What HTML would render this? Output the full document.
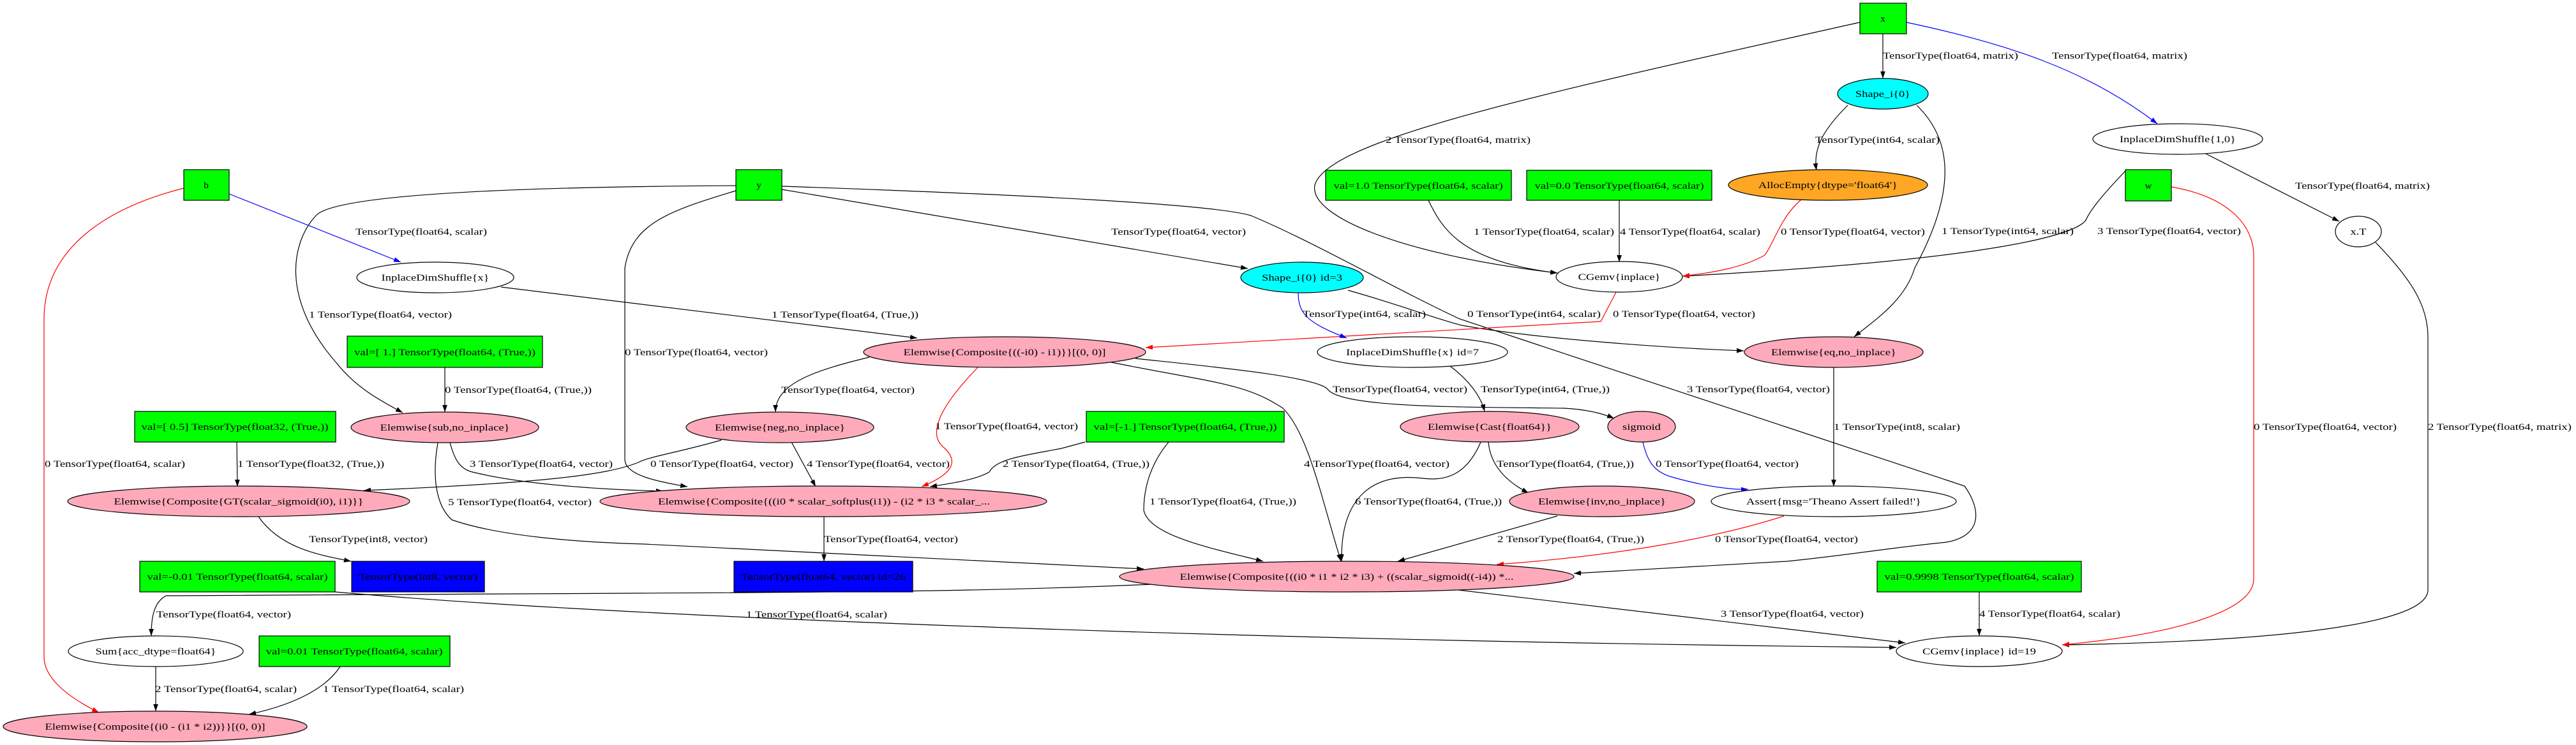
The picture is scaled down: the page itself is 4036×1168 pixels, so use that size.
<!DOCTYPE html>
<html><head><meta charset="utf-8"><style>
html,body{margin:0;padding:0;background:#fff;}
svg{display:block;}
text{font-family:"Liberation Serif",serif;font-size:15px;fill:#000;}
</style></head><body>
<svg width="4036" height="1168" viewBox="0 0 4036 1168" xmlns="http://www.w3.org/2000/svg">
<defs>
<marker id="ak" viewBox="0 0 10 7" refX="10" refY="3.5" markerWidth="11" markerHeight="8" markerUnits="userSpaceOnUse" orient="auto"><path d="M0,0 L10,3.5 L0,7 z" fill="#000"/></marker>
<marker id="ar" viewBox="0 0 10 7" refX="10" refY="3.5" markerWidth="11" markerHeight="8" markerUnits="userSpaceOnUse" orient="auto"><path d="M0,0 L10,3.5 L0,7 z" fill="#f00"/></marker>
<marker id="ab" viewBox="0 0 10 7" refX="10" refY="3.5" markerWidth="11" markerHeight="8" markerUnits="userSpaceOnUse" orient="auto"><path d="M0,0 L10,3.5 L0,7 z" fill="#00f"/></marker>
</defs>
<rect width="4036" height="1168" fill="#fff"/>

<g fill="none" stroke="#000" stroke-width="1.2" marker-end="url(#ak)">
<path d="M2950,53 L2950,123"/>
<path d="M2914,35 C2400,150 2080,220 2060,290 C2050,340 2200,400 2440,428"/>
<path d="M2895,165 C2860,200 2840,230 2846,267"/>
<path d="M3003,165 C3060,220 3065,300 3000,420 C2985,470 2940,500 2905,528"/>
<path d="M2238,314 C2260,360 2290,410 2440,428"/>
<path d="M2537,314 L2537,411"/>
<path d="M3330,268 C3290,310 3275,330 3268,345 C3255,365 3150,405 2636,433"/>
<path d="M3456,241 L3665,347"/>
<path d="M3722,380 C3780,440 3804,480 3804,530 L3804,925 C3804,975 3600,1005 3231,1011"/>
<path d="M2112,455 C2200,480 2250,500 2290,510 C2400,530 2600,545 2732,550"/>
<path d="M1153,291 C800,293 530,305 496,337 C455,380 440,470 528,570 C560,610 600,630 631,647"/>
<path d="M1153,299 C1050,330 990,350 979,420 L979,720 C979,745 1030,755 1077,763"/>
<path d="M1130,690 C1060,710 1020,715 1000,725 C950,745 850,757 570,769"/>
<path d="M705,694 C712,720 720,735 740,740 C820,760 950,768 1039,770"/>
<path d="M686,694 C678,740 680,790 708,815 C780,840 900,850 1010,853 L1792,892"/>
<path d="M1240,693 L1278,763"/>
<path d="M1362,560 C1280,580 1215,600 1215,646"/>
<path d="M1700,693 L1663,703 C1600,715 1560,720 1550,740 C1530,752 1490,758 1457,763"/>
<path d="M1831,693 C1800,730 1792,770 1792,800 C1800,840 1900,860 1979,880"/>
<path d="M1741,568 C1900,600 1950,600 2010,640 C2050,680 2070,780 2101,880"/>
<path d="M1779,562 C1900,575 2060,590 2080,610 C2100,640 2300,638 2450,640 C2490,642 2515,650 2529,656"/>
<path d="M2272,574 C2300,595 2320,620 2326,645"/>
<path d="M2320,693 C2300,740 2270,755 2230,750 C2150,740 2100,780 2102,880"/>
<path d="M2332,693 C2335,730 2360,755 2395,773"/>
<path d="M2873,576 L2873,763"/>
<path d="M2440,809 L2190,880"/>
<path d="M1225,292 C1600,305 1900,320 1960,338 C2060,380 2180,450 2287,500 L3078,762 C3105,800 3105,840 3050,850 C2950,860 2900,870 2800,880 L2466,899"/>
<path d="M1225,297 L1955,421"/>
<path d="M785,450 L1437,530"/>
<path d="M697,576 L697,646"/>
<path d="M371,693 L372,763"/>
<path d="M405,810 C440,860 500,870 550,880"/>
<path d="M1291,810 L1291,880"/>
<path d="M1805,916 C1600,925 1430,928 1000,930 L260,934 C240,945 237,970 237,997"/>
<path d="M525,928 C1000,970 2000,1005 2971,1015"/>
<path d="M2285,925 L2985,1008"/>
<path d="M3101,928 L3101,997"/>
<path d="M244,1045 L244,1115"/>
<path d="M533,1045 C510,1080 460,1105 390,1120"/>
</g>
<g fill="none" stroke="#f00" stroke-width="1.2" marker-end="url(#ar)">
<path d="M2822,313 C2790,340 2780,380 2765,400 C2730,420 2680,428 2636,433"/>
<path d="M3402,293 C3500,310 3531,360 3531,400 L3531,908 C3531,960 3400,995 3231,1011"/>
<path d="M2532,458 L2508,504 L1795,545"/>
<path d="M288,295 C150,330 69,400 69,500 L69,1030 C69,1060 100,1090 155,1117"/>
<path d="M1532,576 C1470,640 1455,680 1477,700 C1500,720 1500,740 1444,763"/>
<path d="M2795,809 C2700,840 2550,870 2345,885"/>
</g>
<g fill="none" stroke="#00f" stroke-width="1.2" marker-end="url(#ab)">
<path d="M2987,35 C3150,70 3270,110 3380,194"/>
<path d="M2034,458 C2034,490 2045,505 2110,530"/>
<path d="M359,304 L628,411"/>
<path d="M2574,693 C2580,720 2590,740 2620,748 C2680,765 2720,768 2739,767"/>
</g>

<g stroke="#000" stroke-width="1.2">
<rect x="2914" y="5" width="73" height="48" fill="#00ff00"/>
<rect x="288" y="266" width="71" height="48" fill="#00ff00"/>
<rect x="1153" y="266" width="72" height="48" fill="#00ff00"/>
<rect x="3330" y="266" width="72" height="49" fill="#00ff00"/>
<rect x="2077" y="267" width="291" height="47" fill="#00ff00"/>
<rect x="2392" y="267" width="290" height="47" fill="#00ff00"/>
<rect x="544" y="527" width="306" height="49" fill="#00ff00"/>
<rect x="211" y="645" width="315" height="48" fill="#00ff00"/>
<rect x="1702" y="645" width="310" height="48" fill="#00ff00"/>
<rect x="219" y="880" width="306" height="48" fill="#00ff00"/>
<rect x="551" y="880" width="208" height="48" fill="#0000ff"/>
<rect x="1150" y="880" width="280" height="48" fill="#0000ff"/>
<rect x="2941" y="880" width="320" height="48" fill="#00ff00"/>
<rect x="406" y="997" width="299" height="48" fill="#00ff00"/>
</g>
<g stroke="#000" stroke-width="1.2">
<ellipse cx="2950" cy="147" rx="71" ry="24" fill="#00ffff"/>
<ellipse cx="2864" cy="290" rx="156" ry="24" fill="#ffa724"/>
<ellipse cx="3412" cy="218" rx="133" ry="24" fill="#fff"/>
<ellipse cx="3695" cy="363" rx="36" ry="24" fill="#fff"/>
<ellipse cx="2537" cy="434" rx="99" ry="24" fill="#fff"/>
<ellipse cx="2040" cy="435" rx="96" ry="24" fill="#00ffff"/>
<ellipse cx="682" cy="435" rx="123" ry="24" fill="#fff"/>
<ellipse cx="1574" cy="552" rx="221" ry="24" fill="#ffaabb"/>
<ellipse cx="2213" cy="552" rx="149" ry="24" fill="#fff"/>
<ellipse cx="2873" cy="552" rx="140" ry="24" fill="#ffaabb"/>
<ellipse cx="697" cy="670" rx="147" ry="24" fill="#ffaabb"/>
<ellipse cx="1222" cy="670" rx="147" ry="24" fill="#ffaabb"/>
<ellipse cx="2334" cy="669" rx="140" ry="24" fill="#ffaabb"/>
<ellipse cx="2572" cy="669" rx="53" ry="24" fill="#ffaabb"/>
<ellipse cx="374" cy="786" rx="268" ry="24" fill="#ffaabb"/>
<ellipse cx="1290" cy="786" rx="350" ry="24" fill="#ffaabb"/>
<ellipse cx="2510" cy="786" rx="145" ry="24" fill="#ffaabb"/>
<ellipse cx="2873" cy="786" rx="192" ry="24" fill="#fff"/>
<ellipse cx="2110" cy="904" rx="356" ry="24" fill="#ffaabb"/>
<ellipse cx="3101" cy="1021" rx="130" ry="24" fill="#fff"/>
<ellipse cx="244" cy="1021" rx="137" ry="24" fill="#fff"/>
<ellipse cx="243" cy="1139" rx="238" ry="24" fill="#ffaabb"/>
</g>

<g text-anchor="middle">
<text x="2950" y="34">x</text>
<text x="323" y="295">b</text>
<text x="1189" y="295">y</text>
<text x="3366" y="296">w</text>
<text x="2222" y="296" textLength="265" lengthAdjust="spacingAndGlyphs">val=1.0 TensorType(float64, scalar)</text>
<text x="2537" y="296" textLength="265" lengthAdjust="spacingAndGlyphs">val=0.0 TensorType(float64, scalar)</text>
<text x="697" y="557" textLength="284" lengthAdjust="spacingAndGlyphs">val=[ 1.] TensorType(float64, (True,))</text>
<text x="368" y="674" textLength="293" lengthAdjust="spacingAndGlyphs">val=[ 0.5] TensorType(float32, (True,))</text>
<text x="1857" y="674" textLength="287" lengthAdjust="spacingAndGlyphs">val=[-1.] TensorType(float64, (True,))</text>
<text x="372" y="909" textLength="283" lengthAdjust="spacingAndGlyphs">val=-0.01 TensorType(float64, scalar)</text>
<text x="655" y="909" textLength="186" lengthAdjust="spacingAndGlyphs">TensorType(int8, vector)</text>
<text x="1290" y="909" textLength="258" lengthAdjust="spacingAndGlyphs">TensorType(float64, vector) id=26</text>
<text x="3101" y="909" textLength="297" lengthAdjust="spacingAndGlyphs">val=0.9998 TensorType(float64, scalar)</text>
<text x="555" y="1026" textLength="277" lengthAdjust="spacingAndGlyphs">val=0.01 TensorType(float64, scalar)</text>

<text x="2950" y="152" textLength="86" lengthAdjust="spacingAndGlyphs">Shape_i{0}</text>
<text x="2864" y="295" textLength="218" lengthAdjust="spacingAndGlyphs">AllocEmpty{dtype='float64'}</text>
<text x="3412" y="223" textLength="182" lengthAdjust="spacingAndGlyphs">InplaceDimShuffle{1,0}</text>
<text x="3695" y="368" textLength="25" lengthAdjust="spacingAndGlyphs">x.T</text>
<text x="2537" y="439" textLength="129" lengthAdjust="spacingAndGlyphs">CGemv{inplace}</text>
<text x="2040" y="440" textLength="126" lengthAdjust="spacingAndGlyphs">Shape_i{0} id=3</text>
<text x="682" y="440" textLength="169" lengthAdjust="spacingAndGlyphs">InplaceDimShuffle{x}</text>
<text x="1574" y="557" textLength="317" lengthAdjust="spacingAndGlyphs">Elemwise{Composite{((-i0) - i1)}}[(0, 0)]</text>
<text x="2213" y="557" textLength="208" lengthAdjust="spacingAndGlyphs">InplaceDimShuffle{x} id=7</text>
<text x="2873" y="557" textLength="196" lengthAdjust="spacingAndGlyphs">Elemwise{eq,no_inplace}</text>
<text x="697" y="675" textLength="203" lengthAdjust="spacingAndGlyphs">Elemwise{sub,no_inplace}</text>
<text x="1222" y="675" textLength="204" lengthAdjust="spacingAndGlyphs">Elemwise{neg,no_inplace}</text>
<text x="2334" y="674" textLength="194" lengthAdjust="spacingAndGlyphs">Elemwise{Cast{float64}}</text>
<text x="2572" y="674" textLength="60" lengthAdjust="spacingAndGlyphs">sigmoid</text>
<text x="374" y="791" textLength="391" lengthAdjust="spacingAndGlyphs">Elemwise{Composite{GT(scalar_sigmoid(i0), i1)}}</text>
<text x="1291" y="791" textLength="520" lengthAdjust="spacingAndGlyphs">Elemwise{Composite{((i0 * scalar_softplus(i1)) - (i2 * i3 * scalar_...</text>
<text x="2510" y="791" textLength="200" lengthAdjust="spacingAndGlyphs">Elemwise{inv,no_inplace}</text>
<text x="2873" y="791" textLength="274" lengthAdjust="spacingAndGlyphs">Assert{msg='Theano Assert failed!'}</text>
<text x="2110" y="909" textLength="523" lengthAdjust="spacingAndGlyphs">Elemwise{Composite{((i0 * i1 * i2 * i3) + ((scalar_sigmoid((-i4)) *...</text>
<text x="3101" y="1026" textLength="178" lengthAdjust="spacingAndGlyphs">CGemv{inplace} id=19</text>
<text x="244" y="1026" textLength="189" lengthAdjust="spacingAndGlyphs">Sum{acc_dtype=float64}</text>
<text x="243" y="1144" textLength="345" lengthAdjust="spacingAndGlyphs">Elemwise{Composite{(i0 - (i1 * i2))}}[(0, 0)]</text>
</g>

<g>
<text x="2950" y="92" textLength="212" lengthAdjust="spacingAndGlyphs">TensorType(float64, matrix)</text>
<text x="3215" y="92" textLength="212" lengthAdjust="spacingAndGlyphs">TensorType(float64, matrix)</text>
<text x="2171" y="224" textLength="227" lengthAdjust="spacingAndGlyphs">2 TensorType(float64, matrix)</text>
<text x="2844" y="224" textLength="195" lengthAdjust="spacingAndGlyphs">TensorType(int64, scalar)</text>
<text x="2309" y="368" textLength="220" lengthAdjust="spacingAndGlyphs">1 TensorType(float64, scalar)</text>
<text x="2538" y="368" textLength="220" lengthAdjust="spacingAndGlyphs">4 TensorType(float64, scalar)</text>
<text x="2790" y="368" textLength="226" lengthAdjust="spacingAndGlyphs">0 TensorType(float64, vector)</text>
<text x="3042" y="367" textLength="207" lengthAdjust="spacingAndGlyphs">1 TensorType(int64, scalar)</text>
<text x="3286" y="367" textLength="225" lengthAdjust="spacingAndGlyphs">3 TensorType(float64, vector)</text>
<text x="3596" y="296" textLength="211" lengthAdjust="spacingAndGlyphs">TensorType(float64, matrix)</text>
<text x="557" y="368" textLength="206" lengthAdjust="spacingAndGlyphs">TensorType(float64, scalar)</text>
<text x="1741" y="368" textLength="211" lengthAdjust="spacingAndGlyphs">TensorType(float64, vector)</text>
<text x="484" y="498" textLength="224" lengthAdjust="spacingAndGlyphs">1 TensorType(float64, vector)</text>
<text x="1209" y="498" textLength="230" lengthAdjust="spacingAndGlyphs">1 TensorType(float64, (True,))</text>
<text x="2041" y="497" textLength="193" lengthAdjust="spacingAndGlyphs">TensorType(int64, scalar)</text>
<text x="2299" y="497" textLength="209" lengthAdjust="spacingAndGlyphs">0 TensorType(int64, scalar)</text>
<text x="2527" y="497" textLength="223" lengthAdjust="spacingAndGlyphs">0 TensorType(float64, vector)</text>
<text x="979" y="557" textLength="224" lengthAdjust="spacingAndGlyphs">0 TensorType(float64, vector)</text>
<text x="697" y="616" textLength="230" lengthAdjust="spacingAndGlyphs">0 TensorType(float64, (True,))</text>
<text x="1224" y="616" textLength="209" lengthAdjust="spacingAndGlyphs">TensorType(float64, vector)</text>
<text x="2088" y="615" textLength="211" lengthAdjust="spacingAndGlyphs">TensorType(float64, vector)</text>
<text x="2320" y="615" textLength="202" lengthAdjust="spacingAndGlyphs">TensorType(int64, (True,))</text>
<text x="2643" y="615" textLength="224" lengthAdjust="spacingAndGlyphs">3 TensorType(float64, vector)</text>
<text x="1465" y="673" textLength="224" lengthAdjust="spacingAndGlyphs">1 TensorType(float64, vector)</text>
<text x="2873" y="674" textLength="198" lengthAdjust="spacingAndGlyphs">1 TensorType(int8, scalar)</text>
<text x="3531" y="674" textLength="224" lengthAdjust="spacingAndGlyphs">0 TensorType(float64, vector)</text>
<text x="3804" y="674" textLength="225" lengthAdjust="spacingAndGlyphs">2 TensorType(float64, matrix)</text>
<text x="70" y="732" textLength="220" lengthAdjust="spacingAndGlyphs">0 TensorType(float64, scalar)</text>
<text x="372" y="732" textLength="230" lengthAdjust="spacingAndGlyphs">1 TensorType(float32, (True,))</text>
<text x="736" y="732" textLength="224" lengthAdjust="spacingAndGlyphs">3 TensorType(float64, vector)</text>
<text x="1019" y="732" textLength="224" lengthAdjust="spacingAndGlyphs">0 TensorType(float64, vector)</text>
<text x="1264" y="732" textLength="224" lengthAdjust="spacingAndGlyphs">4 TensorType(float64, vector)</text>
<text x="1571" y="732" textLength="230" lengthAdjust="spacingAndGlyphs">2 TensorType(float64, (True,))</text>
<text x="2043" y="732" textLength="228" lengthAdjust="spacingAndGlyphs">4 TensorType(float64, vector)</text>
<text x="2345" y="732" textLength="215" lengthAdjust="spacingAndGlyphs">TensorType(float64, (True,))</text>
<text x="2594" y="732" textLength="224" lengthAdjust="spacingAndGlyphs">0 TensorType(float64, vector)</text>
<text x="702" y="792" textLength="225" lengthAdjust="spacingAndGlyphs">5 TensorType(float64, vector)</text>
<text x="1801" y="791" textLength="230" lengthAdjust="spacingAndGlyphs">1 TensorType(float64, (True,))</text>
<text x="2123" y="791" textLength="230" lengthAdjust="spacingAndGlyphs">6 TensorType(float64, (True,))</text>
<text x="484" y="850" textLength="186" lengthAdjust="spacingAndGlyphs">TensorType(int8, vector)</text>
<text x="1291" y="850" textLength="210" lengthAdjust="spacingAndGlyphs">TensorType(float64, vector)</text>
<text x="2346" y="850" textLength="230" lengthAdjust="spacingAndGlyphs">2 TensorType(float64, (True,))</text>
<text x="2687" y="850" textLength="224" lengthAdjust="spacingAndGlyphs">0 TensorType(float64, vector)</text>
<text x="245" y="968" textLength="211" lengthAdjust="spacingAndGlyphs">TensorType(float64, vector)</text>
<text x="1169" y="968" textLength="221" lengthAdjust="spacingAndGlyphs">1 TensorType(float64, scalar)</text>
<text x="2696" y="967" textLength="224" lengthAdjust="spacingAndGlyphs">3 TensorType(float64, vector)</text>
<text x="3101" y="967" textLength="221" lengthAdjust="spacingAndGlyphs">4 TensorType(float64, scalar)</text>
<text x="243" y="1085" textLength="222" lengthAdjust="spacingAndGlyphs">2 TensorType(float64, scalar)</text>
<text x="506" y="1085" textLength="221" lengthAdjust="spacingAndGlyphs">1 TensorType(float64, scalar)</text>
</g>
</svg>
</body></html>
